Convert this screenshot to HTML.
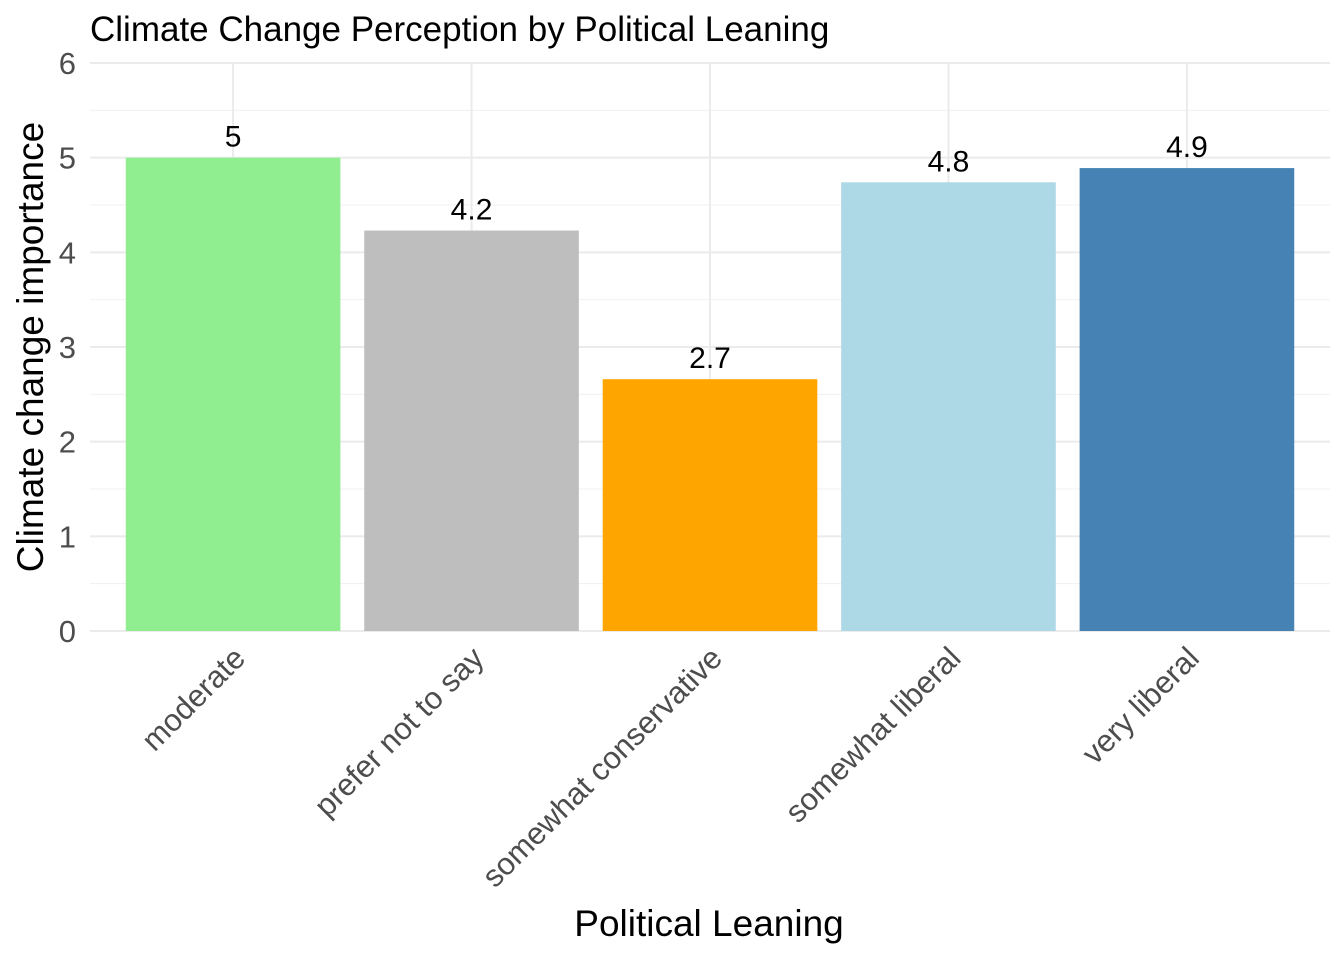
<!DOCTYPE html>
<html><head><meta charset="utf-8"><style>
html,body{margin:0;padding:0;background:#fff;}
svg text{font-family:"Liberation Sans",Arial,sans-serif;}
</style></head><body>
<svg id="chart" width="1344" height="960">
<g id="grid"></g>
<g id="bars"></g>
<g id="labels"></g>
<g id="yticks"></g>
<g id="xticks"></g>
<text x="90" y="41" font-size="35" fill="#000">Climate Change Perception by Political Leaning</text>
<text transform="translate(43,347) rotate(-90)" text-anchor="middle" font-size="37" fill="#000">Climate change importance</text>
<text x="709" y="936" text-anchor="middle" font-size="37" fill="#000">Political Leaning</text>
</svg>
<script>
const categories = ["moderate","prefer not to say","somewhat conservative","somewhat liberal","very liberal"];
const values = [5.0, 4.23, 2.66, 4.74, 4.89];
const valueLabels = ["5","4.2","2.7","4.8","4.9"];
const colors = ["#90EE90","#BEBEBE","#FFA500","#ADD8E6","#4682B4"];
const yTicks = [0,1,2,3,4,5,6];

const NS="http://www.w3.org/2000/svg";
const left=90,right=1330,y0=631,yTop=63,yMax=6;
const y=v=>y0-(v/yMax)*(y0-yTop);
const step=(right-left)/(categories.length+0.2);
const x=i=>left+step*(i+0.6);
const bw=step*0.9;
function mk(tag,attrs,parent){const e=document.createElementNS(NS,tag);for(const k in attrs)e.setAttribute(k,attrs[k]);document.getElementById(parent).appendChild(e);return e;}

for(let v=0.5;v<yMax;v+=1){
  const l=mk("line",{x1:left,x2:right,y1:y(v),y2:y(v),stroke:"#f0f0f0","stroke-width":1},"grid");
  
  
}
yTicks.forEach(t=>{
  const l=mk("line",{x1:left,x2:right,y1:y(t),y2:y(t),stroke:"#ebebeb","stroke-width":2},"grid");
  
  
  const tx=mk("text",{x:76,y:y(t)+11,"text-anchor":"end","font-size":31,fill:"#4d4d4d"},"yticks");
  tx.textContent=t;
  
  
});
categories.forEach((c,i)=>{
  const g=mk("line",{x1:x(i),x2:x(i),y1:yTop,y2:y0,stroke:"#ebebeb","stroke-width":2},"grid");
  
  
});
categories.forEach((c,i)=>{
  const r=mk("rect",{x:x(i)-bw/2,y:y(values[i]),width:bw,height:y0-y(values[i]),fill:colors[i]},"bars");
  
  
  const t=mk("text",{x:x(i),y:y(values[i])-11,"text-anchor":"middle","font-size":30,fill:"#000"},"labels");
  t.textContent=valueLabels[i];
  
  
  const xt=mk("text",{transform:`translate(${x(i)+14},${y0+29}) rotate(-45)`,"text-anchor":"end","font-size":31,fill:"#4d4d4d"},"xticks");
  xt.textContent=c;
  
  
});
</script>
</body></html>
